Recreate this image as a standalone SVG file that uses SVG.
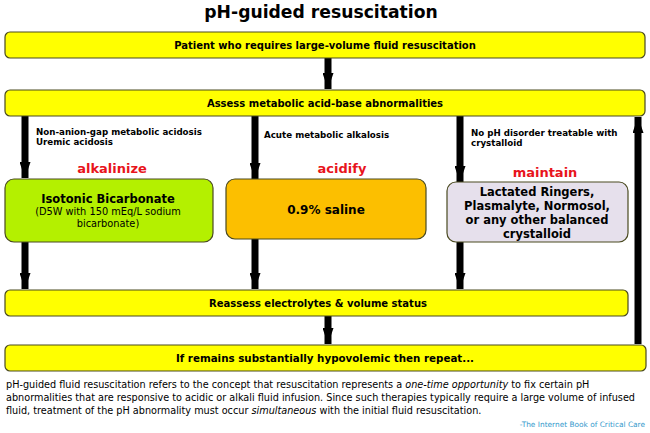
<svg xmlns="http://www.w3.org/2000/svg" width="650" height="433" viewBox="0 0 650 433">
<style>
.box{stroke:#4a4a20;stroke-width:1.2}
.y{fill:#ffff00}
.t{font-family:"DejaVu Sans",Verdana,sans-serif;font-weight:bold;fill:#000}
.n{font-family:"DejaVu Sans",Verdana,sans-serif;fill:#000}
.red{font-family:"DejaVu Sans",Verdana,sans-serif;font-weight:bold;fill:#e8141c;font-size:13px}
.ar{stroke:#000;stroke-width:7;fill:none}
</style>
<defs>
<marker id="ah" markerUnits="userSpaceOnUse" markerWidth="16" markerHeight="11" refX="16" refY="5.5" orient="auto" viewBox="0 0 16 11">
<path d="M0,0 L16,5.5 L0,11 Z" fill="#000"/>
</marker>
</defs>
<rect width="650" height="433" fill="#fff"/>
<text class="t" x="321" y="18" font-size="17.2" text-anchor="middle">pH-guided resuscitation</text>

<g id="connectors">
<line class="ar" x1="328" y1="58" x2="328" y2="89" marker-end="url(#ah)"/>
<line class="ar" x1="25" y1="116" x2="25" y2="178" marker-end="url(#ah)"/>
<line class="ar" x1="255" y1="116" x2="255" y2="179" marker-end="url(#ah)"/>
<line class="ar" x1="460" y1="116" x2="460" y2="182" marker-end="url(#ah)"/>
<line class="ar" x1="25" y1="242" x2="25" y2="289" marker-end="url(#ah)"/>
<line class="ar" x1="255" y1="239" x2="255" y2="289" marker-end="url(#ah)"/>
<line class="ar" x1="460" y1="242" x2="460" y2="289" marker-end="url(#ah)"/>
<line class="ar" x1="328" y1="316" x2="328" y2="344" marker-end="url(#ah)"/>
<line class="ar" x1="638" y1="344" x2="638" y2="117" marker-end="url(#ah)"/>
</g>

<g id="n1">
<rect class="box y" x="5" y="32" width="640" height="26" rx="5"/>
<text class="t" x="325" y="49" font-size="10" text-anchor="middle">Patient who requires large-volume fluid resuscitation</text>
</g>
<g id="n2">
<rect class="box y" x="5" y="90" width="640" height="26" rx="5"/>
<text class="t" x="325" y="107" font-size="10" text-anchor="middle">Assess metabolic acid-base abnormalities</text>
</g>

<g id="lbl1">
<text class="t" x="36" y="135" font-size="8.7">Non-anion-gap metabolic acidosis</text>
<text class="t" x="36" y="145" font-size="8.7">Uremic acidosis</text>
</g>
<g id="lbl2">
<text class="t" x="264" y="138" font-size="8.7">Acute metabolic alkalosis</text>
</g>
<g id="lbl3">
<text class="t" x="471" y="136" font-size="8.7">No pH disorder treatable with</text>
<text class="t" x="471" y="146" font-size="8.7">crystalloid</text>
</g>

<g id="n3">
<text class="red" x="112" y="173" text-anchor="middle">alkalinize</text>
<rect class="box" x="5" y="179" width="208" height="63" rx="9" fill="#b4f000"/>
<text class="t" x="108" y="203" font-size="11.5" text-anchor="middle">Isotonic Bicarbonate</text>
<text class="n" x="108" y="215" font-size="9.8" text-anchor="middle">(D5W with 150 mEq/L sodium</text>
<text class="n" x="108" y="227" font-size="9.8" text-anchor="middle">bicarbonate)</text>
</g>
<g id="n4">
<text class="red" x="342" y="173" text-anchor="middle">acidify</text>
<rect class="box" x="226" y="179" width="200" height="60" rx="9" fill="#fcbf00"/>
<text class="t" x="326" y="214" font-size="12" text-anchor="middle">0.9% saline</text>
</g>
<g id="n5">
<text class="red" x="545" y="177" text-anchor="middle">maintain</text>
<rect class="box" x="447" y="182" width="181" height="60" rx="9" fill="#e6e0ec"/>
<text class="t" x="537" y="196" font-size="11.5" text-anchor="middle">Lactated Ringers,</text>
<text class="t" x="537" y="210" font-size="11.5" text-anchor="middle">Plasmalyte, Normosol,</text>
<text class="t" x="537" y="224" font-size="11.5" text-anchor="middle">or any other balanced</text>
<text class="t" x="537" y="238" font-size="11.5" text-anchor="middle">crystalloid</text>
</g>

<g id="n6">
<rect class="box y" x="5" y="290" width="623" height="26" rx="5"/>
<text class="t" x="318" y="307" font-size="10" text-anchor="middle">Reassess electrolytes &amp; volume status</text>
</g>
<g id="n7">
<rect class="box y" x="5" y="345" width="641" height="26" rx="5"/>
<text class="t" x="325" y="362" font-size="10.3" text-anchor="middle">If remains substantially hypovolemic then repeat...</text>
</g>

<g id="note" xml:space="preserve">
<text class="n" x="6" y="388" font-size="9.7">pH-guided fluid resuscitation refers to the concept that resuscitation represents a <tspan font-style="italic">one-time opportunity</tspan> to fix certain pH</text>
<text class="n" x="6" y="401" font-size="9.7">abnormalities that are responsive to acidic or alkali fluid infusion.  Since such therapies typically require a large volume of infused</text>
<text class="n" x="6" y="414" font-size="9.7">fluid, treatment of the pH abnormality must occur <tspan font-style="italic">simultaneous</tspan> with the initial fluid resuscitation.</text>
<text class="n" x="645" y="427" font-size="7.4" text-anchor="end" style="fill:#3399cc">-The Internet Book of Critical Care</text>
</g>
</svg>
